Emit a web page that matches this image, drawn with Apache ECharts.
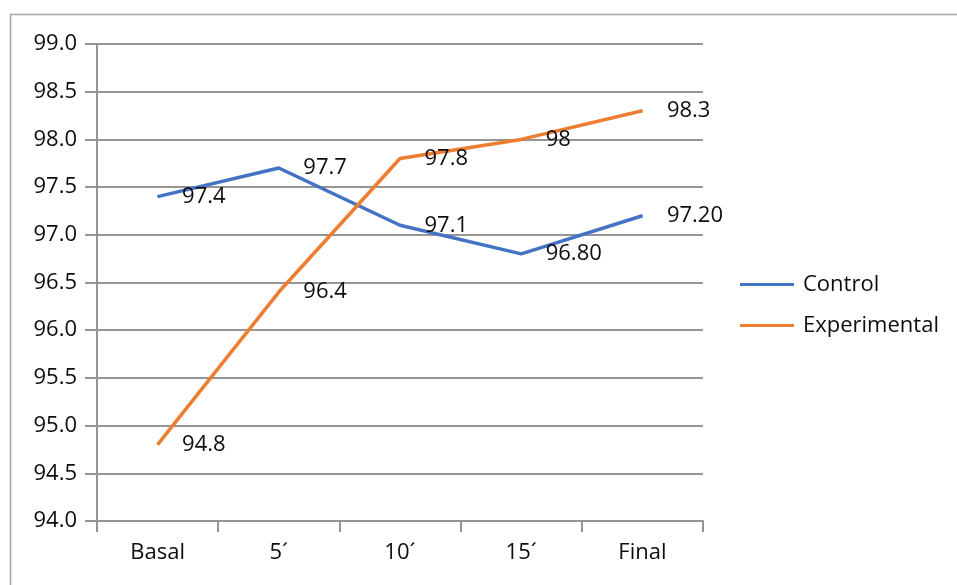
<!DOCTYPE html>
<html>
<head>
<meta charset="utf-8">
<script src="https://cdn.jsdelivr.net/npm/echarts@6/dist/echarts.min.js"></script>
<style>
  html, body { margin: 0; padding: 0; background: #fff; }
  #chart { width: 957px; height: 585px; }
</style>
</head>
<body>
<div id="chart"></div>
<script>
// Time points of the measurement
const categories = ['Basal', '5\u00B4', '10\u00B4', '15\u00B4', 'Final'];

// Control group
const controlValues = [97.4, 97.7, 97.1, 96.8, 97.2];
const controlLabels = ['97.4', '97.7', '97.1', '96.80', '97.20'];

// Experimental group
const experimentalValues = [94.8, 96.4, 97.8, 98.0, 98.3];
const experimentalLabels = ['94.8', '96.4', '97.8', '98', '98.3'];

const FONT = '"Open Sans", "Noto Sans", sans-serif';
const FS = 22;
const TEXT = '#0d0d0d';
const GRID = '#959595';

const chart = echarts.init(document.getElementById('chart'), null, { renderer: 'canvas' });

function lineSeries(name, values, labels, color) {
  return {
    name: name,
    type: 'line',
    data: values,
    symbol: 'circle',
    symbolSize: 1,
    showSymbol: true,
    color: color,
    lineStyle: { color: color, width: 3.5 },
    itemStyle: { color: color },
    label: {
      show: true,
      position: 'right',
      distance: 24,
      color: TEXT,
      fontFamily: FONT,
      fontSize: FS,
      formatter: function (p) { return labels[p.dataIndex]; }
    },
    emphasis: { disabled: true },
    animation: false
  };
}

chart.setOption({
  backgroundColor: '#ffffff',
  animation: false,
  grid: { left: 97, right: 254, top: 44, bottom: 64, containLabel: false },
  xAxis: {
    type: 'category',
    data: categories,
    boundaryGap: true,
    axisLine: { show: true, lineStyle: { color: GRID, width: 2 } },
    axisTick: { show: true, length: 11, lineStyle: { color: GRID, width: 2 } },
    axisLabel: { color: TEXT, fontFamily: FONT, fontSize: FS, margin: 21 },
    splitLine: { show: false }
  },
  yAxis: {
    type: 'value',
    min: 94,
    max: 99,
    interval: 0.5,
    axisLine: { show: true, lineStyle: { color: GRID, width: 2 } },
    axisTick: { show: true, length: 12, lineStyle: { color: GRID, width: 2 } },
    axisLabel: {
      color: TEXT, fontFamily: FONT, fontSize: FS, margin: 20,
      formatter: function (v) { return v.toFixed(1); }
    },
    splitLine: { show: true, lineStyle: { color: GRID, width: 2 } }
  },
  legend: {
    orient: 'vertical',
    left: 740,
    top: 273,
    padding: 0,
    icon: 'rect',
    itemWidth: 54,
    itemHeight: 3,
    itemGap: 18,
    textStyle: { color: TEXT, fontFamily: FONT, fontSize: FS, lineHeight: 23, padding: [0, 0, 0, 4] },
    data: ['Control', 'Experimental']
  },
  graphic: [{
    type: 'rect',
    shape: { x: 10.5, y: 14.5, width: 1200, height: 1200 },
    style: { fill: 'none', stroke: '#a6a6a6', lineWidth: 1.5 },
    silent: true,
    z: -1
  }],
  series: [
    lineSeries('Control', controlValues, controlLabels, '#4472C4'),
    lineSeries('Experimental', experimentalValues, experimentalLabels, '#ED7D31')
  ]
});
</script>
</body>
</html>
